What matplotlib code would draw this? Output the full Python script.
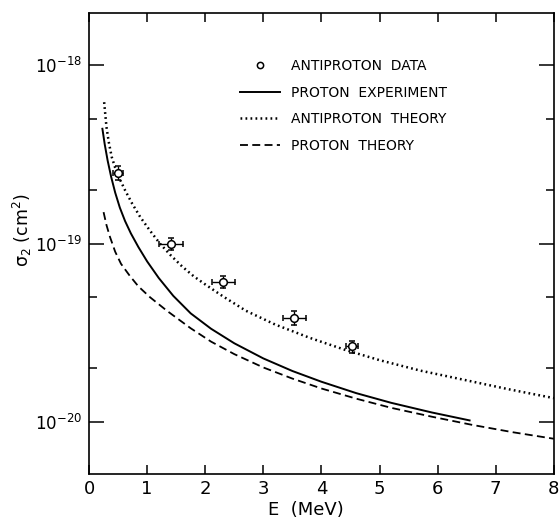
import numpy as np
import matplotlib
matplotlib.use("Agg")
import matplotlib.pyplot as plt
from matplotlib.lines import Line2D
from matplotlib.ticker import FixedLocator, NullFormatter

# values
data_E = [0.50, 1.41, 2.31, 3.53, 4.53]
data_sigma = [2.50e-19, 1.00e-19, 6.10e-20, 3.85e-20, 2.65e-20]
data_E_err = [0.08, 0.20, 0.20, 0.20, 0.10]
data_sigma_err = [0.23e-19, 0.08e-19, 0.50e-20, 0.35e-20, 0.20e-20]

# proton experiment (solid)
pexp_E = [0.23, 0.27, 0.32, 0.38, 0.45, 0.53, 0.62, 0.72, 0.85, 1.0, 1.2,
          1.45, 1.75, 2.1, 2.5, 3.0, 3.5, 4.0, 4.6, 5.2, 5.9, 6.55]
pexp_sigma = [4.40e-19, 3.60e-19, 2.92e-19, 2.37e-19, 1.93e-19, 1.59e-19,
              1.337e-19, 1.14e-19, 9.55e-20, 7.94e-20, 6.41e-20, 5.09e-20,
              4.06e-20, 3.33e-20, 2.76e-20, 2.27e-20, 1.93e-20, 1.68e-20,
              1.45e-20, 1.28e-20, 1.13e-20, 1.02e-20]

# antiproton theory (dotted)
apth_E = [0.26, 0.30, 0.34, 0.39, 0.45, 0.52, 0.62, 0.74, 0.88, 1.05, 1.22,
          1.4, 1.6, 1.8, 2.0, 2.3, 2.7, 3.2, 3.8, 4.4, 5.0, 5.7, 6.5, 7.2, 8.0]
apth_sigma = [6.2e-19, 4.5e-19, 3.7e-19, 3.06e-19, 2.66e-19, 2.33e-19,
              1.99e-19, 1.68e-19, 1.41e-19, 1.18e-19, 1.0e-19, 8.63e-20,
              7.45e-20, 6.56e-20, 5.9e-20, 5.07e-20, 4.2e-20, 3.52e-20,
              2.96e-20, 2.54e-20, 2.22e-20, 1.94e-20, 1.71e-20, 1.53e-20,
              1.36e-20]

# proton theory (dashed)
pth_E = [0.25, 0.30, 0.36, 0.45, 0.55, 0.70, 0.85, 1.05, 1.34, 1.75, 2.1,
         2.5, 3.0, 3.5, 4.0, 4.6, 5.2, 5.9, 6.6, 7.3, 8.0]
pth_sigma = [1.5e-19, 1.27e-19, 1.09e-19, 9.0e-20, 7.7e-20, 6.6e-20,
             5.75e-20, 5.0e-20, 4.2e-20, 3.35e-20, 2.82e-20, 2.40e-20,
             2.02e-20, 1.75e-20, 1.54e-20, 1.35e-20, 1.20e-20, 1.07e-20,
             9.62e-21, 8.75e-21, 8.05e-21]

labels = ["ANTIPROTON  DATA", "PROTON  EXPERIMENT", "ANTIPROTON  THEORY", "PROTON  THEORY"]
y_major = [1e-20, 1e-19, 1e-18]
y_minor = [2e-20, 5e-20, 2e-19, 5e-19]

fig = plt.figure(figsize=(5.6, 5.21), dpi=100)
ax = fig.add_axes([0.159, 0.090, 0.830, 0.885])

ax.errorbar(data_E, data_sigma, xerr=data_E_err, yerr=data_sigma_err,
            fmt="o", mfc="white", mec="black", ms=5.5, mew=1.1,
            ecolor="black", elinewidth=1.0, capsize=2.5, capthick=1.0,
            zorder=5)
h_pexp, = ax.plot(pexp_E, pexp_sigma, color="black", lw=1.4)
h_apth, = ax.plot(apth_E, apth_sigma, color="black", lw=1.8,
                  linestyle=(0, (0.7, 1.3)))
h_pth, = ax.plot(pth_E, pth_sigma, color="black", lw=1.3,
                 linestyle=(0, (4.4, 2.4)))
h_data = Line2D([], [], marker="o", ls="none", mfc="white", mec="black",
                ms=4.5, mew=1.1)

ax.set_yscale("log")
ax.set_xlim(0, 8)
ax.set_ylim(5.1e-21, 1.96e-18)
ax.set_xticks(range(0, 9))
ax.yaxis.set_major_locator(FixedLocator(y_major))
ax.yaxis.set_minor_locator(FixedLocator(y_minor))
ax.yaxis.set_minor_formatter(NullFormatter())

ax.tick_params(axis="both", which="both", direction="in", top=True, right=True,
               labelsize=13, width=1.1)
ax.tick_params(axis="y", which="major", length=11, pad=5, labelsize=12)
ax.tick_params(axis="y", which="minor", length=6)
ax.tick_params(axis="x", which="major", length=6.5, pad=4.5)
for s in ax.spines.values():
    s.set_linewidth(1.2)

ax.set_xlabel("E  (MeV)", fontsize=13)
ax.set_ylabel(r"$\mathregular{\sigma_2}$ (cm$^\mathregular{2}$)", fontsize=12.5)
ax.xaxis.set_label_coords(0.467, -0.058)
ax.yaxis.set_label_coords(-0.118, 0.529)

ax.legend([h_data, h_pexp, h_apth, h_pth], labels, loc="upper left",
          bbox_to_anchor=(0.31, 0.915), frameon=False, fontsize=10,
          handlelength=2.9, handletextpad=0.75, labelspacing=0.9, borderpad=0)

fig.savefig("out.png", dpi=100)
